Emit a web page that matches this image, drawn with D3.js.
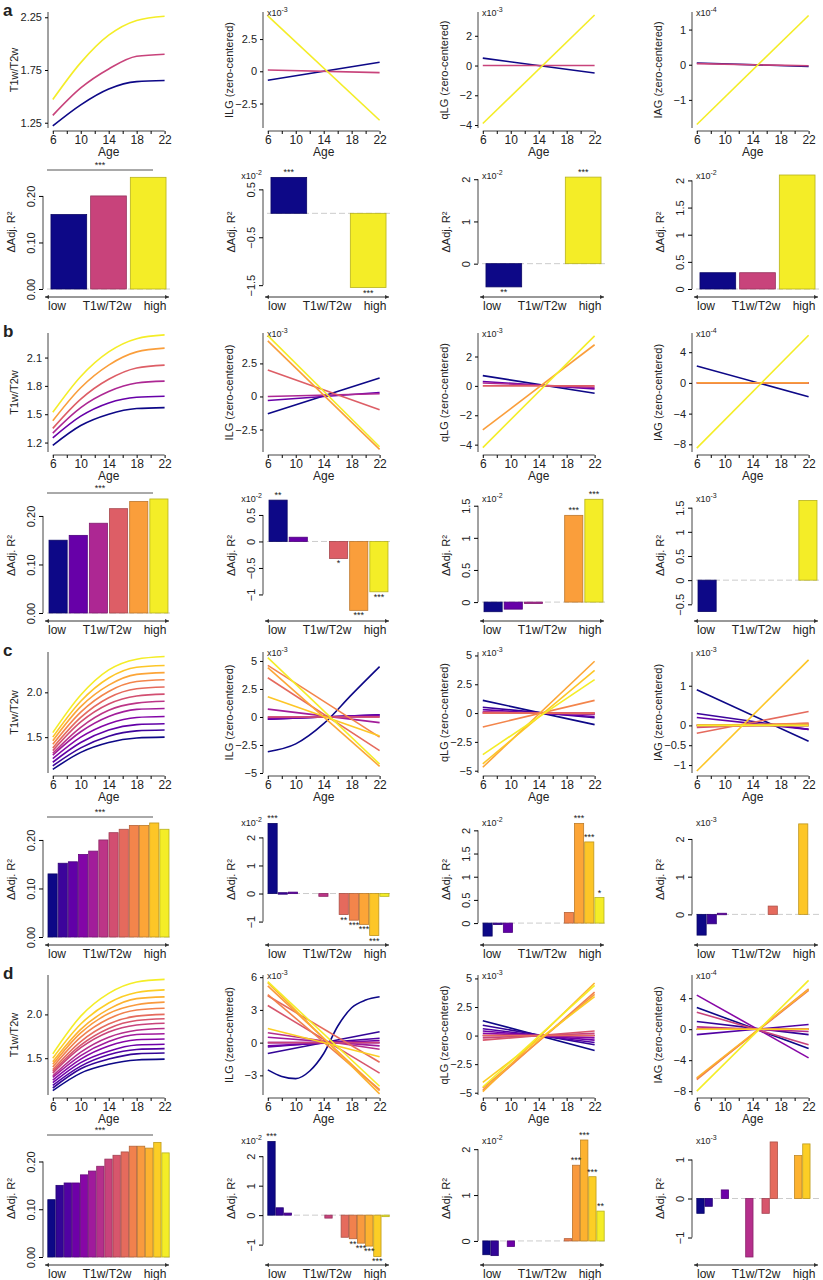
<!DOCTYPE html>
<html><head><meta charset="utf-8">
<script src="https://cdn.jsdelivr.net/npm/d3@7"></script>
<style>
body{margin:0;background:#fff}
text{font-family:"Liberation Sans",Arial,sans-serif;fill:#222}
</style></head>
<body><svg id="fig" width="823" height="1280"></svg>
<script>
// line series: 2 values = straight line 6->22, more = evenly spaced ages
const aT1 = [[1.22,1.42,1.57,1.64,1.65],[1.32,1.58,1.76,1.88,1.90],[1.47,1.82,2.08,2.22,2.26]]
const aILG = [[-0.7,0.7],[0.1,-0.1],[4.3,-3.8]]
const aQLG = [[0.5,-0.5],[0,0],[-3.9,3.4]]
const aIAG = [[0.05,-0.05],[0.03,-0.03],[-1.7,1.4]]
const aBar1 = [0.16,0.20,0.24]
const aBar2 = [0.75,0,-1.55]
const aBar3 = [-0.55,0,2.05]
const aBar4 = [0.3,0.3,2.1]

const bT1 = [[1.17,1.38,1.50,1.56,1.57],[1.25,1.48,1.62,1.68,1.69],[1.30,1.57,1.74,1.83,1.85],
  [1.35,1.66,1.87,1.99,2.02],[1.43,1.78,2.02,2.16,2.20],[1.52,1.90,2.16,2.30,2.34]]
const bILG = [[-1.3,1.4],[-0.3,0.3],[0,0.2],[2.0,-1.0],[4.2,-4.0],[4.6,-3.8]]
const bQLG = [[0.7,-0.5],[0.3,-0.2],[0.2,-0.1],[0,0],[-3.0,2.8],[-4.2,3.4]]
const bIAG = [[2.2,-1.8],[0,0],[0,0],[0,0],[0,0],[-8.5,6.2]]
const bBar1 = [0.15,0.16,0.185,0.215,0.23,0.235]
const bBar2 = [0.78,0.08,0,-0.32,-1.3,-0.95]
const bBar3 = [-0.15,-0.11,-0.02,0,1.35,1.6]
const bBar4 = [-0.65,0,0,0,0,1.65]

const cT1 = [[1.14,1.33,1.44,1.49,1.50],[1.18,1.38,1.51,1.57,1.58],[1.22,1.44,1.58,1.64,1.65],
  [1.26,1.50,1.65,1.72,1.73],[1.30,1.56,1.73,1.81,1.82],[1.32,1.61,1.80,1.88,1.90],
  [1.35,1.67,1.87,1.96,1.98],[1.38,1.72,1.94,2.04,2.06],[1.42,1.78,2.01,2.12,2.14],
  [1.46,1.84,2.08,2.20,2.22],[1.50,1.90,2.16,2.28,2.30],[1.55,1.97,2.25,2.37,2.40]]
const cILG = [[-3.1,-2.4,-0.6,2.0,4.5],[-0.2,0.2],[-0.2,0.2],[-0.1,0.1],[0.7,-0.5],[0,0],[0,0],
  [3.5,-3.0],[4.6,-1.8],[4.4,-4.4],[1.8,-1.7],[5.3,-4.2]]
const cQLG = [[1.1,-1.0],[0.5,-0.4],[0.3,-0.3],[0.1,-0.1],[0,0],[0.1,-0.1],[0,0],[0,0],
  [-1.2,1.1],[-4.7,4.5],[-4.4,3.7],[-3.6,2.9]]
const cIAG = [[0.9,-0.4],[0.3,-0.1],[0.2,-0.1],[0,0],[0,0],[0,0],[-0.05,0.05],[-0.2,0.35],
  [0,0.05],[0,0],[-1.15,1.65],[0,0]]
const cBar1 = [0.13,0.152,0.155,0.17,0.177,0.20,0.215,0.222,0.23,0.23,0.235,0.222]
const cBar2 = [2.5,0.03,0.05,0,0,-0.1,0,-0.75,-0.95,-1.1,-1.5,-0.1]
const cBar3 = [-0.28,-0.02,-0.2,0,0,0,0,0,0.23,2.15,1.75,0.55]
const cBar4 = [-0.55,-0.25,0.03,0,0,0,0,0.22,0,0,2.4,0]

const dT1 = [[1.13,1.33,1.43,1.48,1.49],[1.16,1.38,1.49,1.55,1.56],[1.19,1.41,1.54,1.60,1.61],
  [1.22,1.45,1.58,1.65,1.66],[1.25,1.49,1.64,1.71,1.72],[1.28,1.53,1.69,1.77,1.78],
  [1.30,1.57,1.74,1.82,1.84],[1.33,1.62,1.80,1.88,1.90],[1.35,1.65,1.84,1.93,1.95],
  [1.37,1.69,1.89,1.98,2.00],[1.40,1.74,1.95,2.05,2.07],[1.43,1.79,2.01,2.11,2.14],
  [1.46,1.83,2.06,2.18,2.20],[1.50,1.89,2.13,2.25,2.28],[1.55,1.98,2.24,2.37,2.40]]
const dILG = [[-2.5,-3.1,-3.3,-2.6,-1.0,1.5,3.2,3.9,4.2],[-1.0,1.0],[-0.4,0.4],[-0.3,0.2],[0,0],
  [0.5,-0.3],[0.9,-0.6],[0,0],[3.4,-2.8],[4.3,-1.8],[4.4,-4.3],[5.2,-4.4],[5.5,-4.7],[1.3,-1.3],[5.6,-4.0]]
const dQLG = [[1.3,-1.3],[0.9,-0.8],[0.6,-0.6],[0.4,-0.4],[0.2,-0.2],[0,0],[0,0],[-0.2,0.2],
  [-0.4,0.4],[0,0],[-4.8,3.8],[-4.6,3.6],[-4.9,4.6],[-4.1,3.4],[-4.5,4.4]]
const dIAG = [[2.8,-2.5],[1.0,-0.7],[-0.7,0.6],[0,0],[4.4,-3.7],[0,0],[0.3,-0.3],[2.2,-2.0],
  [0,0],[-6.4,5.0],[-6.5,5.2],[0,0],[-6.3,5.1],[0,0],[-8.0,6.3]]
const dBar1 = [0.12,0.15,0.155,0.155,0.172,0.18,0.19,0.205,0.213,0.22,0.232,0.232,0.228,0.24,0.218]
const dBar2 = [2.5,0.25,0.07,0,0,0,0,-0.1,0,-0.75,-0.8,-0.95,-1.05,-1.4,-0.05]
const dBar3 = [-0.3,-0.32,0,-0.12,0,0,0,0,0,0,0.05,1.65,2.2,1.4,0.65]
const dBar4 = [-0.38,-0.2,0,0.22,0,0,-1.5,0,-0.38,1.45,0,0,1.1,1.4,0]

const ageTicks = [6,10,14,18,22]

const svg = d3.select("#fig")
const lineX = [48,263,478,692]
const barX = [43,263,478,692]

const supText = (sel, base, exp) => {
  sel.append("tspan").text(base)
  sel.append("tspan").attr("dy",-4).attr("font-size",7).text(exp)
}

const fg = d => String(d).replace("-","\u2212")

const linePanel = (col, y0, y1, series, domain, ticks, ylab, exp, fmt = fg) => {
  const ax = lineX[col]
  const g = svg.append("g")
  const x = d3.scaleLinear().domain([5.6,22.2]).range([ax+2, ax+118])
  const y = d3.scaleLinear().domain(domain).range([y1, y0])
  const color = i => d3.interpolatePlasma(series.length == 1 ? 0 : i/(series.length-1)*0.97)
  g.append("g").attr("transform",`translate(0,${y1+3})`)
    .call(d3.axisBottom(x).tickValues(d3.range(6,23,2)).tickSize(3).tickFormat(d => ageTicks.includes(d) ? d : ""))
    .call(a => a.selectAll("text").attr("font-size",12).attr("dy","0.6em"))
    .call(a => a.selectAll(".domain").attr("d",`M${x(6)},0H${x(22)}`))
  g.append("g").attr("transform",`translate(${ax},0)`)
    .call(d3.axisLeft(y).tickValues(ticks).tickSize(3).tickFormat(fmt))
    .call(a => a.selectAll("text").attr("font-size",11))
    .call(a => a.select(".domain").attr("d",`M0,${y0}V${y1}`))
  g.selectAll(".domain").attr("stroke","#444")
  g.append("text").attr("x",(x(6)+x(22))/2).attr("y",y1+28).attr("text-anchor","middle")
    .attr("font-size",12).text("Age")
  g.append("text").attr("transform",`translate(${ax-30},${(y0+y1)/2}) rotate(-90)`)
    .attr("text-anchor","middle").attr("font-size",11).text(ylab)
  if (exp) g.append("text").attr("x",ax+4).attr("y",y0+4).attr("font-size",9).call(supText,"x10",exp)
  const line = d3.line().curve(d3.curveMonotoneX)
  series.forEach((s,i) => {
    const ages = s.map((v,k) => 6 + 16*k/(s.length-1))
    g.append("path").attr("fill","none").attr("stroke",color(i)).attr("stroke-width",1.6)
      .attr("d", line(s.map((v,k) => [x(ages[k]), y(v)])))
  })
}

const barPanel = (col, y0, y1, vals, domain, ticks, fmt, exp, stars, topLine) => {
  const ax = barX[col]
  const g = svg.append("g")
  const x = d3.scaleBand().domain(d3.range(vals.length)).range([ax+4, ax+127]).padding(0.1)
  const y = d3.scaleLinear().domain(domain).range([y1, y0])
  const n = vals.length
  const color = i => d3.interpolatePlasma(n == 1 ? 0 : i/(n-1)*0.97)
  const ax2 = g.append("g").attr("transform",`translate(${ax},0)`)
    .call(d3.axisLeft(y).tickValues(ticks).tickSize(4).tickFormat(fmt))
  ax2.select(".domain").attr("stroke","#444").attr("d",`M0,${y(ticks[0])}V${y(ticks[ticks.length-1])}`)
  ax2.selectAll(".tick text").attr("font-size",11).attr("dy",0)
    .attr("transform","rotate(-90)").attr("text-anchor","middle").attr("x",0).attr("y",-8)
  g.append("text").attr("transform",`translate(${ax-28},${(y0+y1)/2}) rotate(-90)`)
    .attr("text-anchor","middle").attr("font-size",11).text("\u0394Adj. R\u00b2")
  if (exp) {
    const left = col == 1
    g.append("text").attr("x", left ? ax-1 : ax+4).attr("y",y0+4).attr("font-size",9)
      .attr("text-anchor", left ? "end" : "start").call(supText,"x10",exp)
  }
  const base = y(Math.max(domain[0],0))
  g.append("line").attr("x1",ax+4).attr("x2",ax+127).attr("y1",base).attr("y2",base)
    .attr("stroke","#ccc").attr("stroke-dasharray","6,3").attr("stroke-width",1)
  vals.forEach((v,i) => {
    if (v == 0) return
    g.append("rect").attr("x",x(i)).attr("width",x.bandwidth())
      .attr("y",Math.min(y(v),base)).attr("height",Math.max(1.5,Math.abs(y(v)-base)))
      .attr("fill",color(i)).attr("stroke",d3.color(color(i)).darker(0.8)).attr("stroke-width",0.8)
  })
  ;(stars || []).forEach(([i,s]) => {
    const v = vals[i]
    g.append("text").attr("x",x(i)+x.bandwidth()/2).attr("y", v >= 0 ? y(v)-2 : y(v)+8)
      .attr("text-anchor","middle").attr("font-size",9).text(s)
  })
  if (topLine) {
    g.append("line").attr("x1",ax+4).attr("x2",ax+110).attr("y1",y0-5).attr("y2",y0-5).attr("stroke","#555")
    g.append("text").attr("x",ax+57).attr("y",y0-7).attr("text-anchor","middle").attr("font-size",9).text("***")
  }
  const ay = y1+8
  g.append("line").attr("x1",ax+2).attr("x2",ax+126).attr("y1",ay).attr("y2",ay).attr("stroke","#333")
  g.append("path").attr("d",`M${ax+2},${ay}l4,-2v4zM${ax+126},${ay}l-4,-2v4z`).attr("fill","#333")
  ;[["low",ax+14],["T1w/T2w",ax+64],["high",ax+112]].forEach(([t,xx]) =>
    g.append("text").attr("x",xx).attr("y",ay+13).attr("text-anchor","middle").attr("font-size",12).text(t))
}

const f2 = d => d3.format(".2f")(d)
const f1 = d => d3.format(".1f")(d)

const sections = [
  {lab:"a", ly:[12,128], by:[175,289],
   T1:[aT1,[1.2,2.3],[1.25,1.75,2.25],f2], ILG:[aILG,[-4.4,4.6],[-2.5,0,2.5],"-3"], QLG:[aQLG,[-4.2,3.6],[-4,-2,0,2],"-3"], IAG:[aIAG,[-1.8,1.5],[-1,0,1],"-4"],
   B1:[aBar1,[0,0.245],[0,0.1,0.2]], B2:[aBar2,[-1.58,0.8],[-1.5,-0.5,0.5],"-2",[[0,"***"],[2,"***"]]],
   B3:[aBar3,[-0.6,2.1],[0,1,2],"-2",[[0,"**"],[2,"***"]]], B4:[aBar4,[0,2.1],[0,0.5,1,1.5,2],"-2",[]]},
  {lab:"b", ly:[333,452], by:[498,613],
   T1:[bT1,[1.1,2.36],[1.2,1.5,1.8,2.1],f1], ILG:[bILG,[-4.2,4.8],[-2.5,0,2.5],"-3"], QLG:[bQLG,[-4.5,3.6],[-4,-2,0,2],"-3"], IAG:[bIAG,[-9,6.5],[-8,-4,0,4],"-4"],
   B1:[bBar1,[0,0.237],[0,0.1,0.2]], B2:[bBar2,[-1.35,0.82],[-1,-0.5,0,0.5],"-2",[[0,"**"],[3,"*"],[4,"***"],[5,"***"]]],
   B3:[bBar3,[-0.17,1.62],[0,0.5,1,1.5],"-2",[[4,"***"],[5,"***"]]], B4:[bBar4,[-0.68,1.7],[-0.5,0,0.5,1,1.5],"-3",[]]},
  {lab:"c", ly:[652,773], by:[822,937],
   T1:[cT1,[1.1,2.45],[1.5,2.0],f1], ILG:[cILG,[-5,5.8],[-5,-2.5,0,2.5,5],"-3"], QLG:[cQLG,[-5.2,5.3],[-5,-2.5,0,2.5,5],"-3"], IAG:[cIAG,[-1.2,1.85],[-1,-0.5,0,1],"-3"],
   B1:[cBar1,[0,0.237],[0,0.1,0.2]], B2:[cBar2,[-1.55,2.55],[-1,0,1,2],"-2",[[0,"***"],[7,"**"],[8,"***"],[9,"***"],[10,"***"]]],
   B3:[cBar3,[-0.3,2.18],[0,0.5,1,1.5,2],"-2",[[9,"***"],[10,"***"],[11,"*"]]], B4:[cBar4,[-0.6,2.45],[0,1,2],"-3",[]]},
  {lab:"d", ly:[975,1095], by:[1140,1257],
   T1:[dT1,[1.08,2.45],[1.5,2.0],f1], ILG:[dILG,[-4.8,6.2],[-3,0,3,6],"-3"], QLG:[dQLG,[-5.2,5.3],[-5,-2.5,0,2.5,5],"-3"], IAG:[dIAG,[-8.5,7],[-8,-4,0,4],"-4"],
   B1:[dBar1,[0,0.245],[0,0.1,0.2]], B2:[dBar2,[-1.42,2.55],[-1,0,1,2],"-2",[[0,"***"],[10,"**"],[11,"***"],[12,"***"],[13,"***"]]],
   B3:[dBar3,[-0.35,2.2],[0,1,2],"-2",[[11,"***"],[12,"***"],[13,"***"],[14,"**"]]], B4:[dBar4,[-1.5,1.5],[-1,0,1],"-3",[]]}
]

sections.forEach(s => {
  svg.append("text").attr("x",3).attr("y",s.ly[0]+4).attr("font-size",17).attr("font-weight","bold").text(s.lab)
  linePanel(0, s.ly[0], s.ly[1], s.T1[0], s.T1[1], s.T1[2], "T1w/T2w", null, s.T1[3])
  linePanel(1, s.ly[0], s.ly[1], s.ILG[0], s.ILG[1], s.ILG[2], "ILG (zero-centered)", s.ILG[3])
  linePanel(2, s.ly[0], s.ly[1], s.QLG[0], s.QLG[1], s.QLG[2], "qLG (zero-centered)", s.QLG[3])
  linePanel(3, s.ly[0], s.ly[1], s.IAG[0], s.IAG[1], s.IAG[2], "IAG (zero-centered)", s.IAG[3])
  barPanel(0, s.by[0], s.by[1], s.B1[0], s.B1[1], s.B1[2], f2, null, [], true)
  barPanel(1, s.by[0], s.by[1], s.B2[0], s.B2[1], s.B2[2], fg, s.B2[3], s.B2[4])
  barPanel(2, s.by[0], s.by[1], s.B3[0], s.B3[1], s.B3[2], fg, s.B3[3], s.B3[4])
  barPanel(3, s.by[0], s.by[1], s.B4[0], s.B4[1], s.B4[2], fg, s.B4[3], s.B4[4])
})
</script></body></html>
